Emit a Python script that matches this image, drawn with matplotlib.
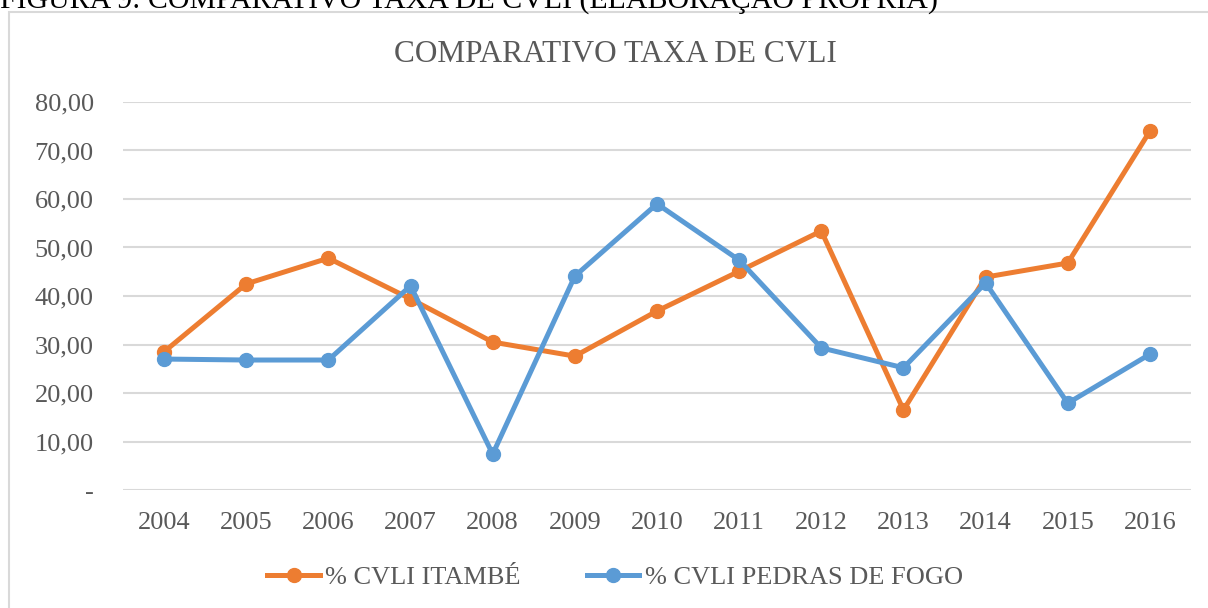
import matplotlib.pyplot as plt
from matplotlib.patches import Rectangle

# data
anos = ["2004", "2005", "2006", "2007", "2008", "2009", "2010",
        "2011", "2012", "2013", "2014", "2015", "2016"]
itambe = [28.5, 42.5, 47.8, 39.4, 30.5, 27.6, 36.9,
          45.1, 53.4, 16.5, 43.9, 46.8, 74.0]
pedras_de_fogo = [27.0, 26.8, 26.8, 42.1, 7.4, 44.1, 59.0,
                  47.4, 29.3, 25.2, 42.7, 17.9, 28.0]
y_ticks = [0, 10, 20, 30, 40, 50, 60, 70, 80]

plt.rcParams['font.family'] = ['Liberation Serif', 'DejaVu Serif']

ORANGE = "#ED7D31"
BLUE = "#5B9BD5"
TEXT = "#595959"
GRID = "#D9D9D9"

fig = plt.figure(figsize=(12.08, 6.08), dpi=100)
W, H = 1208, 608

# chart border (runs off the right/bottom edge like the cropped original)
fig.patches.append(Rectangle((9 / W, -0.1), 1.2, 1.1 - 12 / H,
                             transform=fig.transFigure, fill=False,
                             edgecolor=GRID, linewidth=1.5))

# caption partly cut off at the top
fig.text(0.0, 1 - 8 / H, "FIGURA 9: COMPARATIVO TAXA DE CVLI (ELABORAÇÃO PRÓPRIA)",
         fontsize=21.5, color="black", ha="left", va="baseline")

ax = fig.add_axes([123 / W, 1 - 490 / H, (1191 - 123) / W, (490 - 102) / H])

x = list(range(len(anos)))
ax.plot(x, itambe, color=ORANGE, linewidth=3.6, marker="o", markersize=10,
        label="% CVLI ITAMBÉ", zorder=3)
ax.plot(x, pedras_de_fogo, color=BLUE, linewidth=3.6, marker="o", markersize=10,
        label="% CVLI PEDRAS DE FOGO", zorder=4)

ax.set_xlim(-0.5, len(anos) - 0.5)
ax.set_ylim(0, 80)
ax.set_yticks(y_ticks)
ax.set_yticklabels(["-" if v == 0 else f"{v:.2f}".replace(".", ",") for v in y_ticks])
ax.set_xticks(x)
ax.set_xticklabels(anos)
ax.tick_params(axis="both", length=0, labelsize=19, colors=TEXT)
ax.tick_params(axis="y", pad=21)
ax.tick_params(axis="x", pad=16)
ax.grid(axis="y", color=GRID, linewidth=1.5)
ax.set_axisbelow(True)
for s in ax.spines.values():
    s.set_visible(False)

fig.text(615 / W, 1 - 54 / H, "COMPARATIVO TAXA DE CVLI", fontsize=22.5,
         color=TEXT, ha="center", va="center")

fig.legend(loc="center", bbox_to_anchor=(615 / W, 1 - 577 / H), ncol=2,
           frameon=False, fontsize=19, labelcolor=TEXT, handlelength=2.0,
           handletextpad=0.2, columnspacing=2.5)

fig.savefig("out.png", dpi=100)
